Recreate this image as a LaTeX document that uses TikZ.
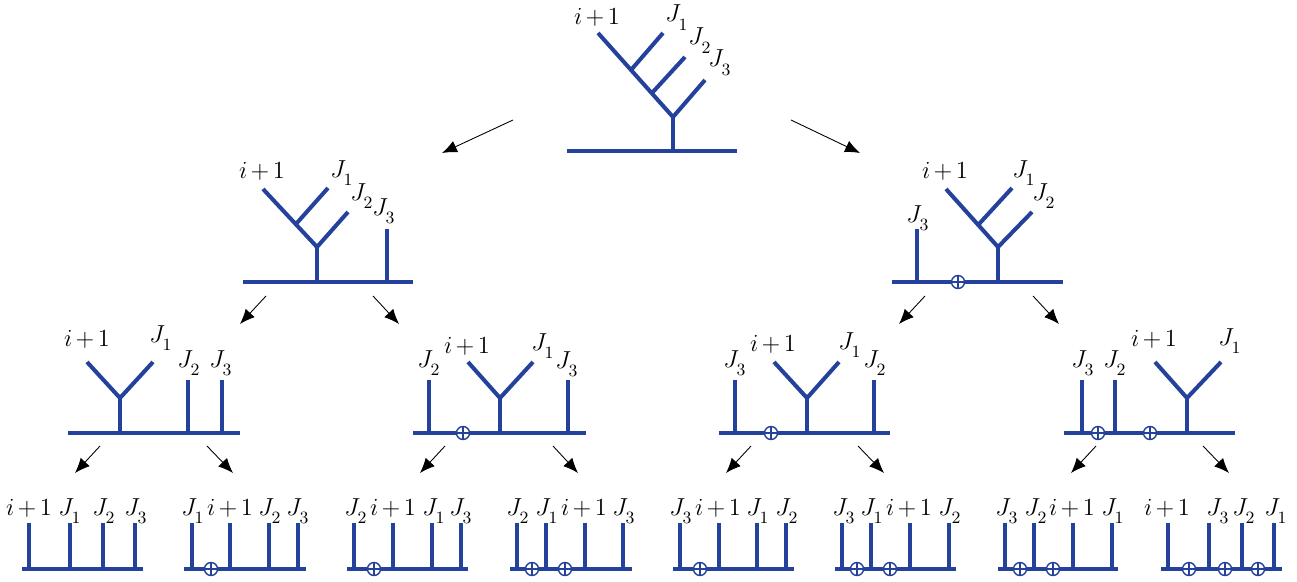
\RequirePackage{fix-cm}
\documentclass[tikz,border=0pt]{standalone}
\usetikzlibrary{arrows.meta}
\definecolor{treeblue}{RGB}{36,66,156}
\newcommand{\Jsb}[1]{J_{\raisebox{-2.5pt}{$\scriptstyle #1$}}}
\newcommand{\ipo}{i\mskip2.5mu{+}\mskip2.5mu1}

\begin{document}
\begin{tikzpicture}[x=0.02cm,y=-0.02cm,
    tree/.style={treeblue,line width=2.3pt},
    osum/.style={circle,draw=treeblue,fill=white,line width=0.8pt,inner sep=0pt,minimum size=0.26cm,
        path picture={\draw[treeblue,line width=0.8pt]
            (path picture bounding box.north)--(path picture bounding box.south)
            (path picture bounding box.west)--(path picture bounding box.east);}},
    lbl/.style={inner sep=0pt,anchor=base},
    jlbl/.style={inner sep=0pt,anchor=base west,xshift=-0.02cm},
    arr/.style={line width=0.5pt,-{Latex[length=8.5pt,width=7pt]}},
    font=\fontsize{14}{16}\selectfont]
    \useasboundingbox (0,0) rectangle (1297,581);

    % top tree
    \draw[tree] (567,151)--(737,151) (673,151)--(673,117);
    \draw[tree] (705,80)--(673,117)--(598,33) (652,93)--(685,57) (631,70)--(663,33);
    \node[lbl] (top-i) at (597,25) {$\ipo$};
    \node[jlbl] (top-j1) at (666,22) {$\Jsb{1}$};
    \node[jlbl] (top-j2) at (689,45) {$\Jsb{2}$};
    \node[jlbl] (top-j3) at (709,67) {$\Jsb{3}$};

    % second row
    \draw[tree] (243,282)--(413,282) (317,282)--(317,247) (387,229)--(387,282);
    \draw[tree] (348,212)--(317,247)--(263,189) (296,224)--(328,188);
    \node[lbl] (l-i) at (262,178) {$\ipo$};
    \node[jlbl] (l-j1) at (331,177) {$\Jsb{1}$};
    \node[jlbl] (l-j2) at (351,200) {$\Jsb{2}$};
    \node[jlbl] (l-j3) at (373,215) {$\Jsb{3}$};

    \draw[tree] (892,282)--(1063,282) (998,282)--(998,247) (917,229)--(917,282);
    \draw[tree] (1032,212)--(998,247)--(946,189) (979,224)--(1012,188);
    \node[osum] (r-o1) at (958,282) {};
    \node[lbl] (r-i) at (945,178) {$\ipo$};
    \node[jlbl] (r-j1) at (1013,177) {$\Jsb{1}$};
    \node[jlbl] (r-j2) at (1033,200) {$\Jsb{2}$};
    \node[jlbl] (r-j3) at (907,222) {$\Jsb{3}$};

    % third row
    \draw[tree] (68,433)--(240,433) (120,433)--(120,398) (188,380)--(188,433) (222,380)--(222,433);
    \draw[tree] (87,362)--(120,398)--(153,362);
    \node[lbl] (ll-i) at (87,346) {$\ipo$};
    \node[jlbl] (ll-j1) at (150,342) {$\Jsb{1}$};
    \node[jlbl] (ll-j2) at (178,367) {$\Jsb{2}$};
    \node[jlbl] (ll-j3) at (210,367) {$\Jsb{3}$};

    \draw[tree] (413,433)--(586,433) (500,433)--(500,398) (429,380)--(429,433) (568,380)--(568,433);
    \draw[tree] (468,362)--(500,398)--(533,362);
    \node[osum] (lr-o1) at (463,433) {};
    \node[jlbl] (lr-j2) at (418,367) {$\Jsb{2}$};
    \node[lbl] (lr-i) at (467,353) {$\ipo$};
    \node[jlbl] (lr-j1) at (532,350) {$\Jsb{1}$};
    \node[jlbl] (lr-j3) at (556,368) {$\Jsb{3}$};

    \draw[tree] (719,433)--(890,433) (807,433)--(807,398) (735,380)--(735,433) (874,380)--(874,433);
    \draw[tree] (774,362)--(807,398)--(839,362);
    \node[osum] (rl-o1) at (771,433) {};
    \node[jlbl] (rl-j3) at (724,367) {$\Jsb{3}$};
    \node[lbl] (rl-i) at (773,351) {$\ipo$};
    \node[jlbl] (rl-j1) at (839,349) {$\Jsb{1}$};
    \node[jlbl] (rl-j2) at (864,367) {$\Jsb{2}$};

    \draw[tree] (1064,433)--(1235,433) (1187,433)--(1187,398) (1082,380)--(1082,433) (1115,380)--(1115,433);
    \draw[tree] (1155,362)--(1187,398)--(1221,362);
    \node[osum] (rr-o1) at (1098,433) {};
    \node[osum] (rr-o2) at (1150,433) {};
    \node[jlbl] (rr-j3) at (1072,367) {$\Jsb{3}$};
    \node[jlbl] (rr-j2) at (1104,367) {$\Jsb{2}$};
    \node[lbl] (rr-i) at (1154,346) {$\ipo$};
    \node[jlbl] (rr-j1) at (1219,345) {$\Jsb{1}$};

    % bottom row
    \draw[tree] (22,569)--(143,569) (29,523)--(29,569) (70,523)--(70,569) (103,523)--(103,569) (135,523)--(135,569);
    \node[lbl] (lll-i) at (29,515) {$\ipo$};
    \node[jlbl] (lll-j1) at (59,515) {$\Jsb{1}$};
    \node[jlbl] (lll-j2) at (93,515) {$\Jsb{2}$};
    \node[jlbl] (lll-j3) at (125,515) {$\Jsb{3}$};

    \draw[tree] (184,569)--(306,569) (192,523)--(192,569) (230,523)--(230,569) (269,523)--(269,569) (298,523)--(298,569);
    \node[osum] (llr-o1) at (211,569) {};
    \node[jlbl] (llr-j1) at (182,515) {$\Jsb{1}$};
    \node[lbl] (llr-i) at (230,515) {$\ipo$};
    \node[jlbl] (llr-j2) at (259,515) {$\Jsb{2}$};
    \node[jlbl] (llr-j3) at (287,515) {$\Jsb{3}$};

    \draw[tree] (347,569)--(468,569) (354,523)--(354,569) (393,523)--(393,569) (432,523)--(432,569) (461,523)--(461,569);
    \node[osum] (lrl-o1) at (374,569) {};
    \node[jlbl] (lrl-j2) at (345,515) {$\Jsb{2}$};
    \node[lbl] (lrl-i) at (393,515) {$\ipo$};
    \node[jlbl] (lrl-j1) at (423,515) {$\Jsb{1}$};
    \node[jlbl] (lrl-j3) at (450,515) {$\Jsb{3}$};

    \draw[tree] (510,569)--(632,569) (517,523)--(517,569) (546,523)--(546,569) (585,523)--(585,569) (623,523)--(623,569);
    \node[osum] (lrr-o1) at (532,569) {};
    \node[osum] (lrr-o2) at (565,569) {};
    \node[jlbl] (lrr-j2) at (507,515) {$\Jsb{2}$};
    \node[jlbl] (lrr-j1) at (536,515) {$\Jsb{1}$};
    \node[lbl] (lrr-i) at (584,515) {$\ipo$};
    \node[jlbl] (lrr-j3) at (613,515) {$\Jsb{3}$};

    \draw[tree] (673,569)--(794,569) (680,523)--(680,569) (719,523)--(719,569) (757,523)--(757,569) (786,523)--(786,569);
    \node[osum] (rll-o1) at (700,569) {};
    \node[jlbl] (rll-j3) at (670,515) {$\Jsb{3}$};
    \node[lbl] (rll-i) at (718,515) {$\ipo$};
    \node[jlbl] (rll-j1) at (747,515) {$\Jsb{1}$};
    \node[jlbl] (rll-j2) at (776,515) {$\Jsb{2}$};

    \draw[tree] (835,569)--(956,569) (842,523)--(842,569) (871,523)--(871,569) (910,523)--(910,569) (949,523)--(949,569);
    \node[osum] (rlr-o1) at (857,569) {};
    \node[osum] (rlr-o2) at (890,569) {};
    \node[jlbl] (rlr-j3) at (833,515) {$\Jsb{3}$};
    \node[jlbl] (rlr-j1) at (861,515) {$\Jsb{1}$};
    \node[lbl] (rlr-i) at (909,515) {$\ipo$};
    \node[jlbl] (rlr-j2) at (939,515) {$\Jsb{2}$};

    \draw[tree] (998,569)--(1118,569) (1005,523)--(1005,569) (1034,523)--(1034,569) (1073,523)--(1073,569) (1112,523)--(1112,569);
    \node[osum] (rrl-o1) at (1020,569) {};
    \node[osum] (rrl-o2) at (1053,569) {};
    \node[jlbl] (rrl-j3) at (996,515) {$\Jsb{3}$};
    \node[jlbl] (rrl-j2) at (1025,515) {$\Jsb{2}$};
    \node[lbl] (rrl-i) at (1072,515) {$\ipo$};
    \node[jlbl] (rrl-j1) at (1102,515) {$\Jsb{1}$};

    \draw[tree] (1161,569)--(1282,569) (1168,523)--(1168,569) (1209,523)--(1209,569) (1242,523)--(1242,569) (1274,523)--(1274,569);
    \node[osum] (rrr-o1) at (1189,569) {};
    \node[osum] (rrr-o2) at (1225,569) {};
    \node[osum] (rrr-o3) at (1258,569) {};
    \node[lbl] (rrr-i) at (1167,515) {$\ipo$};
    \node[jlbl] (rrr-j3) at (1207,515) {$\Jsb{3}$};
    \node[jlbl] (rrr-j2) at (1233,515) {$\Jsb{2}$};
    \node[jlbl] (rrr-j1) at (1265,515) {$\Jsb{1}$};

    % arrows
    \coordinate (top-a) at (513,120); \coordinate (top-b) at (791,120);
    \coordinate (l-in) at (442,153); \coordinate (r-in) at (860,153);
    \coordinate (l-a) at (266,296); \coordinate (l-b) at (373,296);
    \coordinate (r-a) at (925,296); \coordinate (r-b) at (1033,296);
    \coordinate (ll-in) at (240,324); \coordinate (lr-in) at (399,324);
    \coordinate (rl-in) at (899,324); \coordinate (rr-in) at (1059,324);
    \coordinate (ll-a) at (100,446); \coordinate (ll-b) at (207,446);
    \coordinate (lr-a) at (445,446); \coordinate (lr-b) at (553,446);
    \coordinate (rl-a) at (751,446); \coordinate (rl-b) at (858,446);
    \coordinate (rr-a) at (1096,446); \coordinate (rr-b) at (1203,446);
    \coordinate (lll-in) at (75,473); \coordinate (llr-in) at (233,473);
    \coordinate (lrl-in) at (420,473); \coordinate (lrr-in) at (578,473);
    \coordinate (rll-in) at (726,473); \coordinate (rlr-in) at (884,473);
    \coordinate (rrl-in) at (1071,473); \coordinate (rrr-in) at (1229,473);

    \draw[arr] (top-a)--(l-in);
    \draw[arr] (top-b)--(r-in);
    \draw[arr] (l-a)--(ll-in);
    \draw[arr] (l-b)--(lr-in);
    \draw[arr] (r-a)--(rl-in);
    \draw[arr] (r-b)--(rr-in);
    \draw[arr] (ll-a)--(lll-in);
    \draw[arr] (ll-b)--(llr-in);
    \draw[arr] (lr-a)--(lrl-in);
    \draw[arr] (lr-b)--(lrr-in);
    \draw[arr] (rl-a)--(rll-in);
    \draw[arr] (rl-b)--(rlr-in);
    \draw[arr] (rr-a)--(rrl-in);
    \draw[arr] (rr-b)--(rrr-in);
\end{tikzpicture}
\end{document}
